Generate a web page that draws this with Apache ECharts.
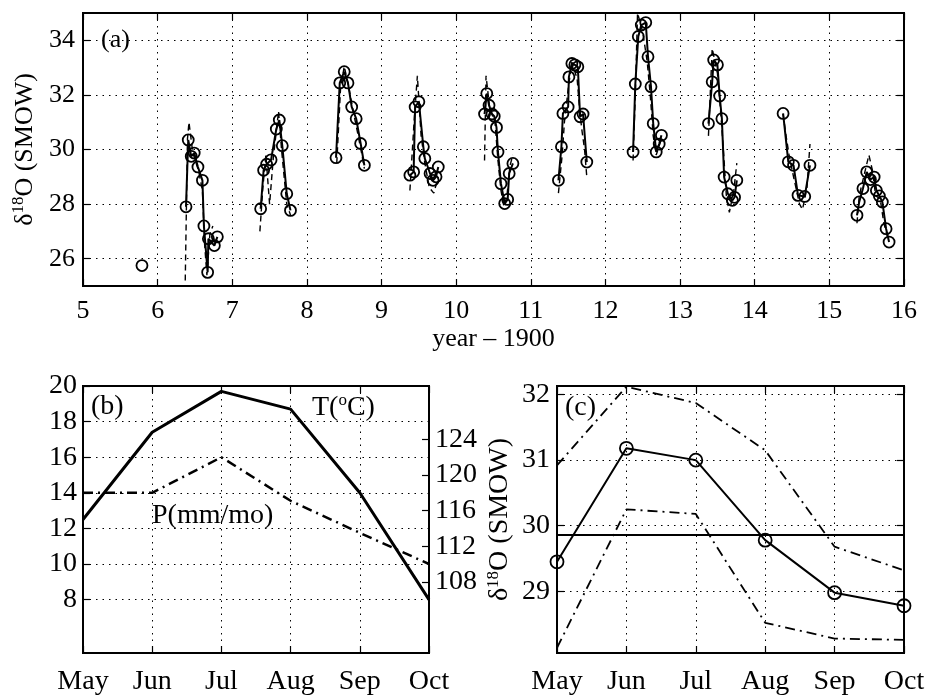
<!DOCTYPE html>
<html lang="en">
<head>
<meta charset="UTF-8">
<title>delta18O</title>
<style>
  html, body { margin: 0; padding: 0; background: #fff; }
  #chart { width: 928px; height: 696px; }
</style>
<script src="https://cdn.jsdelivr.net/npm/echarts@6/dist/echarts.min.js"></script>
</head>
<body>
<div id="chart"></div>
<script>
// ---- panel (a): coral d18O record, one array per growth year ----
var obsYear = [
  [5.79],
  [6.38, 6.41, 6.45, 6.49, 6.54, 6.60, 6.62, 6.67, 6.68, 6.76, 6.80],
  [7.38, 7.42, 7.46, 7.52, 7.59, 7.63, 7.67, 7.73, 7.78],
  [8.39, 8.44, 8.50, 8.55, 8.60, 8.66, 8.72, 8.77],
  [9.38, 9.43, 9.45, 9.50, 9.56, 9.58, 9.65, 9.69, 9.73, 9.76],
  [10.38, 10.41, 10.44, 10.48, 10.51, 10.54, 10.56, 10.60, 10.65, 10.69, 10.71, 10.76],
  [11.37, 11.41, 11.43, 11.50, 11.51, 11.55, 11.59, 11.63, 11.66, 11.70, 11.75],
  [12.37, 12.40, 12.44, 12.48, 12.54, 12.57, 12.61, 12.64, 12.68, 12.72, 12.75],
  [13.38, 13.43, 13.45, 13.50, 13.53, 13.56, 13.59, 13.64, 13.70, 13.73, 13.76],
  [14.38, 14.45, 14.52, 14.58, 14.67, 14.74],
  [15.37, 15.40, 15.45, 15.50, 15.55, 15.60, 15.63, 15.67, 15.71, 15.76, 15.80]
];
var obsD18O = [
  [25.75],
  [27.9, 30.35, 29.75, 29.87, 29.36, 28.87, 27.2, 25.5, 26.73, 26.48, 26.8],
  [27.83, 29.24, 29.46, 29.62, 30.75, 31.08, 30.14, 28.38, 27.77],
  [29.7, 32.44, 32.85, 32.44, 31.56, 31.13, 30.22, 29.42],
  [29.06, 29.18, 31.56, 31.75, 30.10, 29.67, 29.12, 28.87, 29.0, 29.36],
  [31.3, 32.05, 31.62, 31.3, 31.22, 30.81, 29.91, 28.75, 28.02, 28.17, 29.12, 29.49],
  [28.87, 30.10, 31.32, 31.56, 32.66, 33.15, 33.1, 33.03, 31.2, 31.3, 29.54],
  [29.91, 32.40, 34.14, 34.56, 34.65, 33.4, 32.30, 30.95, 29.91, 30.2, 30.52],
  [30.95, 32.48, 33.28, 33.1, 31.96, 31.13, 28.99, 28.38, 28.14, 28.25, 28.87],
  [31.32, 29.55, 29.42, 28.32, 28.28, 29.42],
  [27.59, 28.08, 28.57, 29.18, 28.9, 28.99, 28.5, 28.3, 28.08, 27.10, 26.61]
];
// second (dashed) record
var modYear = [
  [6.37, 6.40, 6.42, 6.47, 6.55, 6.60, 6.63, 6.66, 6.70, 6.74],
  [7.37, 7.41, 7.45, 7.50, 7.55, 7.62, 7.66, 7.73, 7.78],
  [8.40, 8.45, 8.50, 8.56, 8.62, 8.68, 8.73, 8.77],
  [9.38, 9.44, 9.48, 9.53, 9.58, 9.64, 9.70, 9.76],
  [10.38, 10.40, 10.45, 10.52, 10.56, 10.60, 10.64, 10.68, 10.72, 10.76],
  [11.37, 11.42, 11.45, 11.50, 11.55, 11.62, 11.65, 11.68, 11.72, 11.75],
  [12.37, 12.40, 12.43, 12.50, 12.56, 12.60, 12.64, 12.68, 12.74],
  [13.38, 13.43, 13.50, 13.54, 13.58, 13.62, 13.66, 13.72, 13.76],
  [14.38, 14.42, 14.46, 14.52, 14.60, 14.64, 14.70, 14.74],
  [15.37, 15.40, 15.46, 15.53, 15.58, 15.62, 15.68, 15.73, 15.78]
];
var modD18O = [
  [25.2, 30.4, 31.0, 29.9, 29.2, 28.5, 26.5, 25.4, 26.9, 27.2],
  [27.0, 28.6, 29.8, 28.0, 29.7, 31.4, 30.0, 28.0, 27.6],
  [29.5, 32.2, 33.05, 32.3, 31.4, 30.6, 29.9, 29.3],
  [28.5, 31.2, 32.7, 30.5, 29.5, 28.6, 28.4, 29.0],
  [29.6, 32.7, 31.5, 31.0, 29.6, 28.5, 27.9, 28.3, 29.4, 29.8],
  [28.4, 29.8, 31.0, 32.2, 33.2, 32.6, 31.6, 30.8, 30.0, 29.0],
  [29.6, 32.0, 35.0, 34.3, 33.2, 32.0, 30.5, 29.8, 30.3],
  [30.5, 33.7, 32.8, 31.5, 30.0, 28.3, 27.7, 28.5, 29.5],
  [31.3, 30.5, 29.8, 29.0, 28.0, 27.8, 28.6, 30.2],
  [27.3, 28.3, 29.0, 29.8, 29.2, 28.3, 28.2, 27.3, 26.8]
];
var ticksA = [26, 28, 30, 32, 34];

// ---- panel (b): climatology ----
var months = ['May', 'Jun', 'Jul', 'Aug', 'Sep', 'Oct'];
var tempC = [12.5, 17.4, 19.7, 18.7, 14.0, 8.0];
var precip = [118.0, 118.0, 122.0, 117.1, 113.5, 110.0];
var ticksT = [8, 10, 12, 14, 16, 18, 20];
var ticksP = [108, 112, 116, 120, 124];

// ---- panel (c): monthly mean d18O with envelope ----
var meanD18O = [29.45, 31.18, 31.0, 29.78, 28.98, 28.78];
var upperD18O = [30.92, 32.12, 31.87, 31.15, 29.68, 29.32];
var lowerD18O = [28.14, 30.25, 30.18, 28.52, 28.28, 28.26];
var annualMean = 29.86;
var ticksC = [29, 30, 31, 32];

var serif = "'Liberation Serif','DejaVu Serif',serif";
var dotted = { color: '#000', width: 1, type: [1.5, 5] };
var dashDot = [10, 5, 2, 5];

function txt(size) {
  return { color: '#000', fontSize: size, fontFamily: serif };
}
function gridLines(vals) {
  return {
    silent: true, symbol: ['none', 'none'], label: { show: false },
    lineStyle: dotted,
    data: vals.map(function (v) { return { yAxis: v }; })
  };
}
function pairs(xs, ys) {
  return xs.map(function (x, i) { return [x, ys[i]]; });
}
var tick = { show: true, inside: true, length: 7, lineStyle: { color: '#000', width: 1.2 } };

var series = [];
obsYear.forEach(function (xs, k) {
  series.push({
    type: 'line', xAxisIndex: 0, yAxisIndex: 0,
    data: pairs(xs, obsD18O[k]),
    symbol: 'circle', symbolSize: 11,
    itemStyle: { color: 'transparent', borderColor: '#000', borderWidth: 1.8 },
    lineStyle: { color: '#000', width: 2 },
    markLine: k === 0 ? gridLines(ticksA) : undefined
  });
});
modYear.forEach(function (xs, k) {
  series.push({
    type: 'line', xAxisIndex: 0, yAxisIndex: 0,
    data: pairs(xs, modD18O[k]), showSymbol: false,
    lineStyle: { color: '#000', width: 1.4, type: [6, 4] }
  });
});
series.push({
  type: 'line', xAxisIndex: 2, yAxisIndex: 2, data: tempC, showSymbol: false,
  lineStyle: { color: '#000', width: 3 },
  markLine: gridLines(ticksT.slice(0, 6))
});
series.push({
  type: 'line', xAxisIndex: 2, yAxisIndex: 3, data: precip, showSymbol: false,
  lineStyle: { color: '#000', width: 2.5, type: dashDot }
});
var cLines = gridLines(ticksC);
cLines.data.push({ yAxis: annualMean, lineStyle: { color: '#000', width: 1.8, type: 'solid' } });
series.push({
  type: 'line', xAxisIndex: 4, yAxisIndex: 4, data: meanD18O,
  symbol: 'circle', symbolSize: 13,
  itemStyle: { color: 'transparent', borderColor: '#000', borderWidth: 1.8 },
  lineStyle: { color: '#000', width: 2 },
  markLine: cLines
});
series.push({
  type: 'line', xAxisIndex: 4, yAxisIndex: 4, data: upperD18O, showSymbol: false,
  lineStyle: { color: '#000', width: 1.8, type: dashDot }
});
series.push({
  type: 'line', xAxisIndex: 4, yAxisIndex: 4, data: lowerD18O, showSymbol: false,
  lineStyle: { color: '#000', width: 1.8, type: dashDot }
});

var box = { show: true, borderColor: '#000', borderWidth: 2, backgroundColor: 'transparent' };
var yName = '{d|δ}{s|18}{d|O (SMOW)}';
var yNameRich = { d: txt(26), s: { fontSize: 17, fontFamily: serif, color: '#000', padding: [0, 0, 13, 0] } };

var monthAxis = function (g) {
  return {
    gridIndex: g, type: 'category', data: months, boundaryGap: false,
    axisLine: { show: false }, axisTick: Object.assign({ interval: 0 }, tick),
    axisLabel: Object.assign({ interval: 0, margin: 15 }, txt(28)),
    splitLine: { show: true, interval: 0, lineStyle: dotted }
  };
};
var topMonthAxis = function (g) {
  return {
    gridIndex: g, type: 'category', data: months, boundaryGap: false, position: 'top',
    axisLine: { show: false }, axisTick: Object.assign({ interval: 0 }, tick),
    axisLabel: { show: false }, splitLine: { show: false }
  };
};

var chart = echarts.init(document.getElementById('chart'));
chart.setOption({
  animation: false,
  backgroundColor: '#fff',
  grid: [
    Object.assign({ left: 83, top: 13, width: 821, height: 273 }, box),
    Object.assign({ left: 83, top: 386, width: 346, height: 273 }, box),
    Object.assign({ left: 557, top: 386, width: 347, height: 273 }, box)
  ],
  xAxis: [
    {
      gridIndex: 0, type: 'value', min: 5, max: 16, interval: 1,
      axisLine: { show: false }, axisTick: tick,
      axisLabel: Object.assign({ margin: 12 }, txt(26)),
      splitLine: { show: true, lineStyle: dotted },
      name: 'year – 1900', nameLocation: 'middle', nameGap: 40, nameTextStyle: txt(26)
    },
    {
      gridIndex: 0, type: 'value', min: 5, max: 16, interval: 1, position: 'top',
      axisLine: { show: false }, axisTick: tick, axisLabel: { show: false }, splitLine: { show: false }
    },
    monthAxis(1), topMonthAxis(1), monthAxis(2), topMonthAxis(2)
  ],
  yAxis: [
    {
      gridIndex: 0, type: 'value', min: 25, max: 35,
      axisLine: { show: false },
      axisTick: Object.assign({ customValues: ticksA }, tick),
      axisLabel: Object.assign({ customValues: ticksA, margin: 8 }, txt(26)),
      splitLine: { show: false },
      name: yName, nameLocation: 'middle', nameGap: 34,
      nameTextStyle: Object.assign({ rich: yNameRich }, txt(26))
    },
    {
      gridIndex: 0, type: 'value', min: 25, max: 35, position: 'right',
      axisLine: { show: false },
      axisTick: Object.assign({ customValues: ticksA }, tick),
      axisLabel: { show: false }, splitLine: { show: false }
    },
    {
      gridIndex: 1, type: 'value', min: 5, max: 20,
      axisLine: { show: false },
      axisTick: Object.assign({ customValues: ticksT }, tick),
      axisLabel: Object.assign({ customValues: ticksT, margin: 6 }, txt(28)),
      splitLine: { show: false }
    },
    {
      gridIndex: 1, type: 'value', min: 100, max: 130, position: 'right',
      axisLine: { show: false },
      axisTick: Object.assign({ customValues: ticksP }, tick),
      axisLabel: Object.assign({ customValues: ticksP, margin: 6 }, txt(28)),
      splitLine: { show: false }
    },
    {
      gridIndex: 2, type: 'value', min: 28.06, max: 32.13,
      axisLine: { show: false },
      axisTick: Object.assign({ customValues: ticksC }, tick),
      axisLabel: Object.assign({ customValues: ticksC, margin: 7 }, txt(28)),
      splitLine: { show: false },
      name: yName, nameLocation: 'middle', nameGap: 42,
      nameTextStyle: Object.assign({ rich: { d: txt(28), s: yNameRich.s } }, txt(28))
    },
    {
      gridIndex: 2, type: 'value', min: 28.06, max: 32.13, position: 'right',
      axisLine: { show: false },
      axisTick: Object.assign({ customValues: ticksC }, tick),
      axisLabel: { show: false }, splitLine: { show: false }
    }
  ],
  graphic: [
    { type: 'text', x: 101, y: 40, style: { text: '(a)', verticalAlign: 'middle', fill: '#000', font: '26px ' + serif } },
    { type: 'text', x: 91, y: 407, style: { text: '(b)', verticalAlign: 'middle', fill: '#000', font: '28px ' + serif } },
    {
      type: 'text', x: 312, y: 408,
      style: {
        text: '{d|T(}{s|o}{d|C)}', verticalAlign: 'middle', fill: '#000', font: '28px ' + serif,
        rich: { d: { fontSize: 28, fontFamily: serif, fill: '#000' }, s: { fontSize: 17, fontFamily: serif, fill: '#000', padding: [0, 0, 14, 0] } }
      }
    },
    { type: 'text', x: 152, y: 516, style: { text: 'P(mm/mo)', verticalAlign: 'middle', fill: '#000', font: '28px ' + serif } },
    { type: 'text', x: 565, y: 408, style: { text: '(c)', verticalAlign: 'middle', fill: '#000', font: '28px ' + serif } }
  ],
  series: series
});
</script>
</body>
</html>
